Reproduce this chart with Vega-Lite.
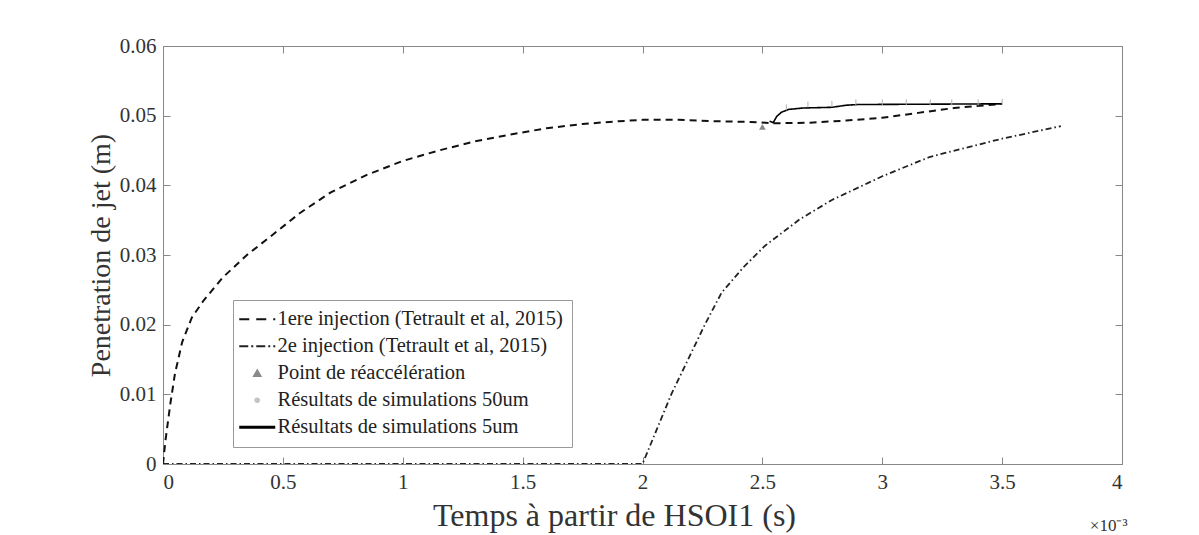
{
  "$schema": "https://vega.github.io/schema/vega-lite/v6.json",
  "width": 959,
  "height": 418,
  "autosize": {"type": "none"},
  "padding": {"left": 163, "top": 46, "right": 77, "bottom": 71},
  "background": "white",
  "title": {"text": "×10⁻³", "orient": "bottom", "anchor": "end", "fontSize": 17, "font": "Liberation Serif", "fontWeight": "normal", "color": "#333", "offset": -13, "dx": 5},
  "data": {"values": [
    {"s": "1ere injection (Tetrault et al, 2015)", "t": 0, "y": 0},
    {"s": "1ere injection (Tetrault et al, 2015)", "t": 0.01, "y": 0.0033},
    {"s": "1ere injection (Tetrault et al, 2015)", "t": 0.03, "y": 0.0085},
    {"s": "1ere injection (Tetrault et al, 2015)", "t": 0.05, "y": 0.013},
    {"s": "1ere injection (Tetrault et al, 2015)", "t": 0.08, "y": 0.0175},
    {"s": "1ere injection (Tetrault et al, 2015)", "t": 0.12, "y": 0.021},
    {"s": "1ere injection (Tetrault et al, 2015)", "t": 0.17, "y": 0.0235},
    {"s": "1ere injection (Tetrault et al, 2015)", "t": 0.25, "y": 0.0268},
    {"s": "1ere injection (Tetrault et al, 2015)", "t": 0.35, "y": 0.03},
    {"s": "1ere injection (Tetrault et al, 2015)", "t": 0.45, "y": 0.0327},
    {"s": "1ere injection (Tetrault et al, 2015)", "t": 0.57, "y": 0.036},
    {"s": "1ere injection (Tetrault et al, 2015)", "t": 0.7, "y": 0.039},
    {"s": "1ere injection (Tetrault et al, 2015)", "t": 0.85, "y": 0.0415},
    {"s": "1ere injection (Tetrault et al, 2015)", "t": 1.0, "y": 0.0435},
    {"s": "1ere injection (Tetrault et al, 2015)", "t": 1.15, "y": 0.045},
    {"s": "1ere injection (Tetrault et al, 2015)", "t": 1.3, "y": 0.0463},
    {"s": "1ere injection (Tetrault et al, 2015)", "t": 1.45, "y": 0.0473},
    {"s": "1ere injection (Tetrault et al, 2015)", "t": 1.6, "y": 0.0482},
    {"s": "1ere injection (Tetrault et al, 2015)", "t": 1.75, "y": 0.0488},
    {"s": "1ere injection (Tetrault et al, 2015)", "t": 1.9, "y": 0.0492},
    {"s": "1ere injection (Tetrault et al, 2015)", "t": 2.0, "y": 0.0494},
    {"s": "1ere injection (Tetrault et al, 2015)", "t": 2.15, "y": 0.0494},
    {"s": "1ere injection (Tetrault et al, 2015)", "t": 2.3, "y": 0.0492},
    {"s": "1ere injection (Tetrault et al, 2015)", "t": 2.45, "y": 0.0491},
    {"s": "1ere injection (Tetrault et al, 2015)", "t": 2.55, "y": 0.0489},
    {"s": "1ere injection (Tetrault et al, 2015)", "t": 2.7, "y": 0.049},
    {"s": "1ere injection (Tetrault et al, 2015)", "t": 2.85, "y": 0.0493},
    {"s": "1ere injection (Tetrault et al, 2015)", "t": 3.0, "y": 0.0497},
    {"s": "1ere injection (Tetrault et al, 2015)", "t": 3.15, "y": 0.0504},
    {"s": "1ere injection (Tetrault et al, 2015)", "t": 3.3, "y": 0.0511},
    {"s": "1ere injection (Tetrault et al, 2015)", "t": 3.5, "y": 0.0517},
    {"s": "2e injection  (Tetrault et al, 2015)", "t": 0, "y": 0},
    {"s": "2e injection  (Tetrault et al, 2015)", "t": 2.0, "y": 0},
    {"s": "2e injection  (Tetrault et al, 2015)", "t": 2.06, "y": 0.005},
    {"s": "2e injection  (Tetrault et al, 2015)", "t": 2.12, "y": 0.01},
    {"s": "2e injection  (Tetrault et al, 2015)", "t": 2.19, "y": 0.015},
    {"s": "2e injection  (Tetrault et al, 2015)", "t": 2.26, "y": 0.02},
    {"s": "2e injection  (Tetrault et al, 2015)", "t": 2.33, "y": 0.0246},
    {"s": "2e injection  (Tetrault et al, 2015)", "t": 2.42, "y": 0.0282},
    {"s": "2e injection  (Tetrault et al, 2015)", "t": 2.51, "y": 0.0313},
    {"s": "2e injection  (Tetrault et al, 2015)", "t": 2.655, "y": 0.0351},
    {"s": "2e injection  (Tetrault et al, 2015)", "t": 2.79, "y": 0.0379},
    {"s": "2e injection  (Tetrault et al, 2015)", "t": 3.0, "y": 0.0413},
    {"s": "2e injection  (Tetrault et al, 2015)", "t": 3.2, "y": 0.0441},
    {"s": "2e injection  (Tetrault et al, 2015)", "t": 3.5, "y": 0.0467},
    {"s": "2e injection  (Tetrault et al, 2015)", "t": 3.745, "y": 0.0485},
    {"s": "Point de réaccélération", "t": 2.5, "y": 0.0484},
    {"s": "Résultats de simulations 50um", "t": 2.6, "y": 0.0512},
    {"s": "Résultats de simulations 50um", "t": 2.69, "y": 0.0516},
    {"s": "Résultats de simulations 50um", "t": 2.79, "y": 0.0517},
    {"s": "Résultats de simulations 50um", "t": 2.89, "y": 0.0519},
    {"s": "Résultats de simulations 50um", "t": 3.0, "y": 0.0519},
    {"s": "Résultats de simulations 50um", "t": 3.1, "y": 0.0519},
    {"s": "Résultats de simulations 50um", "t": 3.2, "y": 0.0519},
    {"s": "Résultats de simulations 50um", "t": 3.29, "y": 0.0519},
    {"s": "Résultats de simulations 50um", "t": 3.4, "y": 0.0519},
    {"s": "Résultats de simulations 50um", "t": 3.5, "y": 0.052},
    {"s": "Résultats de simulations 5um", "t": 2.53, "y": 0.0492},
    {"s": "Résultats de simulations 5um", "t": 2.545, "y": 0.049},
    {"s": "Résultats de simulations 5um", "t": 2.56, "y": 0.0499},
    {"s": "Résultats de simulations 5um", "t": 2.58, "y": 0.0505},
    {"s": "Résultats de simulations 5um", "t": 2.61, "y": 0.0509},
    {"s": "Résultats de simulations 5um", "t": 2.67, "y": 0.0511},
    {"s": "Résultats de simulations 5um", "t": 2.79, "y": 0.0512},
    {"s": "Résultats de simulations 5um", "t": 2.85, "y": 0.0515},
    {"s": "Résultats de simulations 5um", "t": 2.9, "y": 0.0516},
    {"s": "Résultats de simulations 5um", "t": 3.5, "y": 0.0517}
  ]},
  "config": {
    "view": {"stroke": "#888", "strokeWidth": 1},
    "font": "Liberation Serif",
    "axis": {
      "labelFont": "Liberation Serif", "titleFont": "Liberation Serif",
      "labelFontSize": 21, "titleFontWeight": "normal",
      "labelColor": "#333", "titleColor": "#333",
      "domainColor": "#888", "tickColor": "#888", "grid": false,
      "tickSize": -7
    },
    "legend": {
      "labelFont": "Liberation Serif", "labelFontSize": 20.5, "labelColor": "#222",
      "strokeColor": "#999", "fillColor": "white", "padding": 9, "rowPadding": 6,
      "symbolSize": 400, "symbolOffset": 5, "labelOffset": 10, "labelLimit": 600
    }
  },
  "layer": [
    {
      "transform": [{"filter": "datum.s == '1ere injection (Tetrault et al, 2015)' || datum.s == '2e injection  (Tetrault et al, 2015)' || datum.s == 'Résultats de simulations 5um'"}],
      "mark": {"type": "line", "clip": true},
      "encoding": {
        "x": {"field": "t", "type": "quantitative", "scale": {"domain": [0, 4], "nice": false}, "axis": {"values": [0, 0.5, 1, 1.5, 2, 2.5, 3, 3.5, 4], "format": "~g", "title": "Temps à partir de HSOI1 (s)", "labelFont": "Liberation Serif", "labelFontSize": 21, "titleFont": "Liberation Serif", "titleFontSize": 32, "labelPadding": 14, "titlePadding": 8, "titleX": 451}},
        "y": {"field": "y", "type": "quantitative", "scale": {"domain": [0, 0.06], "nice": false}, "axis": {"values": [0, 0.01, 0.02, 0.03, 0.04, 0.05, 0.06], "format": ".2~f", "title": "Penetration de jet (m)", "labelFont": "Liberation Serif", "labelFontSize": 21, "titleFont": "Liberation Serif", "titleFontSize": 28, "labelPadding": 14, "titlePadding": 4}},
        "color": {"field": "s", "type": "nominal", "scale": {"domain": ["1ere injection (Tetrault et al, 2015)", "2e injection  (Tetrault et al, 2015)", "Point de réaccélération", "Résultats de simulations 50um", "Résultats de simulations 5um"], "range": ["#111", "#222", "#8a8a8a", "#c4c4c4", "#000"]},
          "legend": {"title": null, "orient": "none", "legendX": 70, "legendY": 254, "labelFont": "Liberation Serif", "labelFontSize": 20.5,
            "encode": {"symbols": {"update": {
              "shape": {"signal": "datum.index == 2 ? 'triangle-up' : datum.index == 3 ? 'circle' : 'M-1.8,0L1.8,0'"},
              "size": {"signal": "datum.index == 2 ? 40 : datum.index == 3 ? 14 : 400"},
              "strokeDash": {"signal": "datum.index == 0 ? [10,7] : datum.index == 1 ? [9,3,2,3] : [1,0]"},
              "strokeWidth": {"signal": "datum.index == 4 ? 2.8 : 2"},
              "fill": {"signal": "datum.index == 2 ? '#8a8a8a' : datum.index == 3 ? '#c4c4c4' : 'transparent'"},
              "stroke": {"signal": "datum.index == 2 ? '#8a8a8a' : datum.index == 3 ? '#c4c4c4' : '#111'"},
              "opacity": {"value": 1}
            }}}}},
        "strokeDash": {"field": "s", "type": "nominal", "scale": {"domain": ["1ere injection (Tetrault et al, 2015)", "2e injection  (Tetrault et al, 2015)", "Résultats de simulations 5um"], "range": [[7, 5], [6, 3, 1.5, 3], [1, 0]]}, "legend": null},
        "strokeWidth": {"field": "s", "type": "nominal", "scale": {"domain": ["1ere injection (Tetrault et al, 2015)", "2e injection  (Tetrault et al, 2015)", "Résultats de simulations 5um"], "range": [2, 1.6, 2.8]}, "legend": null}
      }
    },
    {
      "transform": [{"filter": "datum.s == 'Point de réaccélération'"}],
      "mark": {"type": "point", "shape": "triangle-up", "filled": true, "size": 45, "color": "#8a8a8a", "opacity": 1},
      "encoding": {
        "x": {"field": "t", "type": "quantitative", "axis": null},
        "y": {"field": "y", "type": "quantitative", "axis": null}
      }
    },
    {
      "transform": [{"filter": "datum.s == 'Résultats de simulations 50um'"}],
      "mark": {"type": "point", "shape": "stroke", "angle": 90, "size": 36, "color": "#b0b0b0", "strokeWidth": 1, "opacity": 1},
      "encoding": {
        "x": {"field": "t", "type": "quantitative", "axis": null},
        "y": {"field": "y", "type": "quantitative", "axis": null}
      }
    },
    {
      "mark": {"type": "point", "opacity": 0},
      "encoding": {
        "x": {"field": "t", "type": "quantitative", "axis": {"orient": "top", "labels": false, "title": null, "values": [0, 0.5, 1, 1.5, 2, 2.5, 3, 3.5, 4]}},
        "y": {"field": "y", "type": "quantitative", "axis": {"orient": "right", "labels": false, "title": null, "values": [0, 0.01, 0.02, 0.03, 0.04, 0.05, 0.06]}}
      }
    }
  ],
  "resolve": {"axis": {"x": "independent", "y": "independent"}}
}
